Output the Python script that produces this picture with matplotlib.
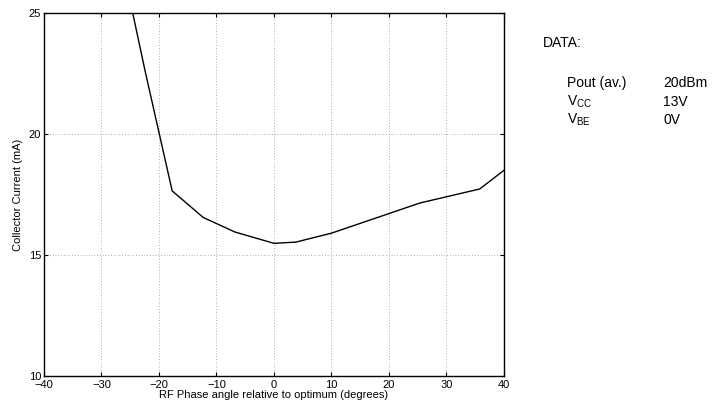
import matplotlib
matplotlib.use("Agg")
import matplotlib.pyplot as plt

# phase angle (deg) vs collector current (mA)
phase   = [-25.0, -22.4, -17.7, -12.3, -6.8, 0.0, 3.8, 10.0, 25.4, 35.8, 40.0]
current = [25.5, 22.6, 17.65, 16.55, 15.95, 15.48, 15.53, 15.9, 17.15, 17.73, 18.5]

x_ticks = [-40, -30, -20, -10, 0, 10, 20, 30, 40]
y_ticks = [10, 15, 20, 25]

data_labels = ["Pout (av.)", r"V$_{\mathregular{CC}}$", r"V$_{\mathregular{BE}}$"]
data_values = ["20dBm", "13V", "0V"]

plt.rcParams["font.family"] = ["Liberation Sans", "DejaVu Sans"]
plt.rcParams["mathtext.fontset"] = "custom"
plt.rcParams["mathtext.rm"] = "Liberation Sans"

fig = plt.figure(figsize=(7.13, 4.08), dpi=100, facecolor="white")
ax = fig.add_axes([0.0617, 0.0792, 0.645, 0.888])

ax.plot(phase, current, color="black", linewidth=1.0)
ax.set_xlim(-40, 40)
ax.set_ylim(10, 25)
ax.set_xticks(x_ticks)
ax.set_yticks(y_ticks)
ax.set_xticklabels([f"{t}".replace("-", "\u2212") for t in x_ticks])
ax.tick_params(direction="in", top=True, right=True, labelsize=8, length=3, pad=2)
ax.tick_params(axis="x", pad=3)
ax.grid(True, color="black", linestyle=(0, (1, 3)), linewidth=0.5, alpha=0.6)
for spine in ax.spines.values():
    spine.set_linewidth(1.0)

ax.set_xlabel("RF Phase angle relative to optimum (degrees)", fontsize=8, labelpad=0)
ax.set_ylabel("Collector Current (mA)", fontsize=8, labelpad=4)

# data box on the right
fig.text(543 / 713, 1 - 43 / 408, "DATA:", fontsize=10, va="center", ha="left")
for i, (lab, val) in enumerate(zip(data_labels, data_values)):
    y = 1 - (83 + 18.5 * i) / 408
    fig.text(567 / 713, y, lab, fontsize=10, va="center", ha="left")
    fig.text(663 / 713, y, val, fontsize=10, va="center", ha="left")

fig.savefig("out.png", dpi=100, facecolor="white")
